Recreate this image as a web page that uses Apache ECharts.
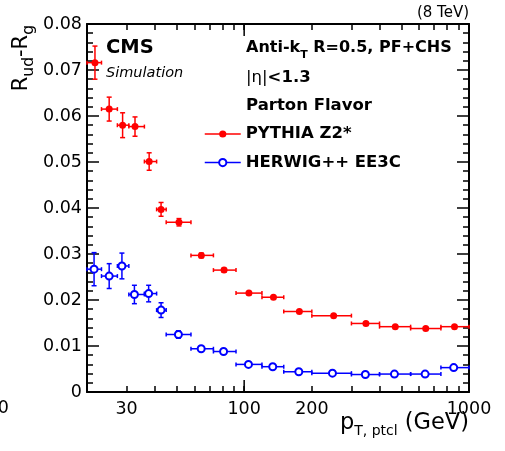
<!DOCTYPE html>
<html>
<head>
<meta charset="utf-8">
<script src="https://cdn.jsdelivr.net/npm/echarts@6/dist/echarts.min.js"></script>
<style>
html, body { margin: 0; padding: 0; background: #fff; }
#chart { width: 505px; height: 451px; }
</style>
</head>
<body>
<div id="chart"></div>
<script>
// pT bins (GeV), shared by both generators
const binLow  = [20, 23.2, 27.3, 30.7, 36, 40.8, 45, 58, 73, 92, 120, 150, 200, 300, 400, 550, 750];
const binHigh = [23.2, 27.3, 30.7, 36, 40.8, 45, 58, 73, 92, 120, 150, 200, 300, 400, 550, 750, 1000];

// PYTHIA Z2*
const pythiaPt  = [21.7, 25.1, 28.8, 32.7, 37.8, 42.7, 51.3, 64.5, 81.4, 105, 135, 176, 250, 348, 470, 642, 862];
const pythiaVal = [0.0716, 0.0615, 0.0580, 0.0577, 0.0501, 0.0397, 0.0369, 0.0297, 0.0265, 0.0215, 0.0206, 0.0175, 0.0166, 0.0149, 0.0142, 0.0138, 0.0142];
const pythiaErr = [0.0036, 0.0026, 0.0027, 0.0021, 0.0019, 0.0015, 0.0008, 0.0005, 0.0004, 0.0003, 0.0003, 0.0002, 0.0002, 0.0002, 0.0002, 0.0002, 0.0002];

// HERWIG++ EE3C
const herwigPt  = [21.5, 25.1, 28.6, 32.5, 37.6, 42.7, 51, 64.4, 81, 104.5, 134, 175, 247, 346, 466, 638, 855];
const herwigVal = [0.0267, 0.0252, 0.0274, 0.0212, 0.0214, 0.0178, 0.0125, 0.0094, 0.0088, 0.0060, 0.0055, 0.0044, 0.0041, 0.0038, 0.0039, 0.0039, 0.0053];
const herwigErr = [0.0036, 0.0027, 0.0028, 0.0020, 0.0018, 0.0016, 0.0008, 0.0004, 0.0004, 0.0003, 0.0003, 0.0002, 0.0002, 0.0002, 0.0002, 0.0002, 0.0002];

// log axis ticks and labels
const xTicks = [30, 40, 50, 60, 70, 80, 90, 100, 200, 300, 400, 500, 600, 700, 800, 900, 1000];
const xMajor = [100, 1000];
const xLabels = [30, 100, 200, 1000];

const FONT = "'DejaVu Sans', 'Liberation Sans', Arial, sans-serif";
const Y_MIN = 0, Y_MAX = 0.08;
const BLACK = { color: '#000', width: 2 };
const TICK = { color: '#000', width: 1.5 };

function errorBars(pts, vals, errs, color) {
    return {
        type: 'custom',
        silent: true,
        z: 2,
        encode: { x: 0, y: 1 },
        data: pts.map((p, i) => [p, vals[i], errs[i], binLow[i], binHigh[i]]),
        renderItem: (params, api) => {
            const y = api.value(1), e = api.value(2);
            const c = api.coord([api.value(0), y]);
            const lo = api.coord([api.value(3), y]);
            const hi = api.coord([api.value(4), y]);
            const top = api.coord([api.value(0), y + e]);
            const bot = api.coord([api.value(0), y - e]);
            const st = { stroke: color, lineWidth: 1.5 };
            const ln = (x1, y1, x2, y2) => ({ type: 'line', shape: { x1, y1, x2, y2 }, style: st });
            return {
                type: 'group',
                children: [
                    ln(lo[0], c[1], hi[0], c[1]),
                    ln(lo[0], c[1] - 2, lo[0], c[1] + 2),
                    ln(hi[0], c[1] - 2, hi[0], c[1] + 2),
                    ln(c[0], top[1], c[0], bot[1]),
                    ln(c[0] - 2.5, top[1], c[0] + 2.5, top[1]),
                    ln(c[0] - 2.5, bot[1], c[0] + 2.5, bot[1])
                ]
            };
        }
    };
}

const yAxisBase = {
    type: 'value',
    min: Y_MIN,
    max: Y_MAX,
    interval: 0.01,
    axisLine: { show: true, lineStyle: BLACK },
    axisTick: { show: true, inside: true, length: 12, lineStyle: TICK },
    minorTick: { show: true, splitNumber: 5, length: 6, lineStyle: TICK },
    splitLine: { show: false }
};

// onZero off, otherwise the top axis is pulled down to y = 0
const xAxisBase = {
    type: 'log',
    logBase: 10,
    min: 20,
    max: 1000,
    axisLine: { show: true, onZero: false, lineStyle: BLACK },
    axisTick: { show: true, inside: true, length: 6, lineStyle: TICK, customValues: xTicks },
    splitLine: { show: false }
};

const chart = echarts.init(document.getElementById('chart'));
chart.setOption({
    animation: false,
    backgroundColor: '#fff',
    grid: { left: 87, right: 36, top: 24, bottom: 59 },
    xAxis: [
        Object.assign({}, xAxisBase, {
            position: 'bottom',
            axisLabel: {
                show: true, customValues: xLabels, formatter: v => String(v),
                color: '#000', fontSize: 17.5, fontFamily: FONT, margin: 8
            }
        }),
        Object.assign({}, xAxisBase, {
            position: 'top',
            axisLabel: { show: false }
        })
    ],
    yAxis: [
        Object.assign({}, yAxisBase, {
            position: 'left',
            axisLabel: { color: '#000', fontSize: 17.5, fontFamily: FONT, margin: 5 }
        }),
        Object.assign({}, yAxisBase, {
            position: 'right',
            axisLabel: { show: false }
        })
    ],
    legend: {
        orient: 'vertical',
        left: 204,
        top: 124,
        padding: 0,
        itemWidth: 36,
        itemHeight: 9,
        itemGap: 8.6,
        data: ['PYTHIA Z2*', 'HERWIG++ EE3C'],
        lineStyle: { opacity: 1, width: 1.5 },
        textStyle: { color: '#000', fontSize: 16.5, fontWeight: 'bold', fontFamily: FONT, lineHeight: 20 },
        selectedMode: false
    },
    series: [
        errorBars(pythiaPt, pythiaVal, pythiaErr, '#ff0000'),
        errorBars(herwigPt, herwigVal, herwigErr, '#0000ff'),
        {
            name: 'PYTHIA Z2*',
            type: 'line',
            z: 3,
            silent: true,
            data: pythiaPt.map((p, i) => [p, pythiaVal[i]]),
            symbol: 'circle',
            symbolSize: 7,
            itemStyle: { color: '#ff0000' },
            lineStyle: { opacity: 0 }
        },
        {
            name: 'HERWIG++ EE3C',
            type: 'line',
            z: 3,
            silent: true,
            data: herwigPt.map((p, i) => [p, herwigVal[i]]),
            symbol: 'emptyCircle',
            symbolSize: 7,
            itemStyle: { color: '#0000ff', borderWidth: 1.5 },
            lineStyle: { opacity: 0 }
        },
        {
            // long ticks at the decades, bottom and top
            type: 'custom',
            silent: true,
            z: 5,
            clip: false,
            encode: { x: 0, y: 1 },
            data: xMajor.map(v => [v, Y_MIN]),
            renderItem: (params, api) => {
                const b = api.coord([api.value(0), Y_MIN]);
                const t = api.coord([api.value(0), Y_MAX]);
                return {
                    type: 'group',
                    children: [
                        { type: 'rect', shape: { x: b[0] - 0.75, y: b[1] - 12, width: 1.5, height: 12 }, style: { fill: '#000' } },
                        { type: 'rect', shape: { x: t[0] - 0.75, y: t[1], width: 1.5, height: 12 }, style: { fill: '#000' } }
                    ]
                };
            }
        }
    ],
    graphic: [
        {
            type: 'text', x: 469, y: 13,
            style: { text: '(8 TeV)', fill: '#000', font: '15px ' + FONT, align: 'right', verticalAlign: 'middle' }
        },
        {
            type: 'text', x: 9, y: 408,
            style: { text: '0', fill: '#000', font: '17.5px ' + FONT, align: 'right', verticalAlign: 'middle' }
        },
        {
            type: 'text', x: 106, y: 48,
            style: { text: 'CMS', fill: '#000', font: 'bold 19.5px ' + FONT, align: 'left', verticalAlign: 'middle' }
        },
        {
            type: 'text', x: 106, y: 73.5,
            style: { text: 'Simulation', fill: '#000', font: 'italic 14.5px ' + FONT, align: 'left', verticalAlign: 'middle' }
        },
        {
            type: 'text', x: 246, y: 48,
            style: {
                text: '{b|Anti-k}{s|T}{b| R=0.5, PF+CHS}',
                align: 'left', verticalAlign: 'middle',
                rich: {
                    b: { fill: '#000', fontSize: 16, fontWeight: 'bold', fontFamily: FONT, lineHeight: 26 },
                    s: { fill: '#000', fontSize: 11, fontWeight: 'bold', fontFamily: FONT, verticalAlign: 'bottom', lineHeight: 10 }
                }
            }
        },
        {
            type: 'text', x: 246, y: 78,
            style: {
                text: '{r||η|}{b|<1.3}',
                align: 'left', verticalAlign: 'middle',
                rich: {
                    r: { fill: '#000', fontSize: 16.5, fontFamily: FONT },
                    b: { fill: '#000', fontSize: 16.5, fontWeight: 'bold', fontFamily: FONT }
                }
            }
        },
        {
            type: 'text', x: 246, y: 105.5,
            style: { text: 'Parton Flavor', fill: '#000', font: 'bold 16.5px ' + FONT, align: 'left', verticalAlign: 'middle' }
        },
        {
            // y-axis title, reading bottom to top
            type: 'text', x: 37, y: 25, rotation: Math.PI / 2,
            style: {
                text: '{m|R}{s|ud}{m|-R}{s|g}',
                align: 'right', verticalAlign: 'bottom',
                rich: {
                    m: { fill: '#000', fontSize: 21, fontFamily: FONT, lineHeight: 30 },
                    s: { fill: '#000', fontSize: 15.5, fontFamily: FONT, verticalAlign: 'bottom', lineHeight: 10 }
                }
            }
        },
        {
            // x-axis title
            type: 'text', x: 469, y: 438,
            style: {
                text: '{m|p}{s|T, ptcl}{m| (GeV)}',
                align: 'right', verticalAlign: 'bottom',
                rich: {
                    m: { fill: '#000', fontSize: 22.5, fontFamily: FONT, lineHeight: 30 },
                    s: { fill: '#000', fontSize: 14, fontFamily: FONT, verticalAlign: 'bottom', lineHeight: 10 }
                }
            }
        }
    ]
});
</script>
</body>
</html>
